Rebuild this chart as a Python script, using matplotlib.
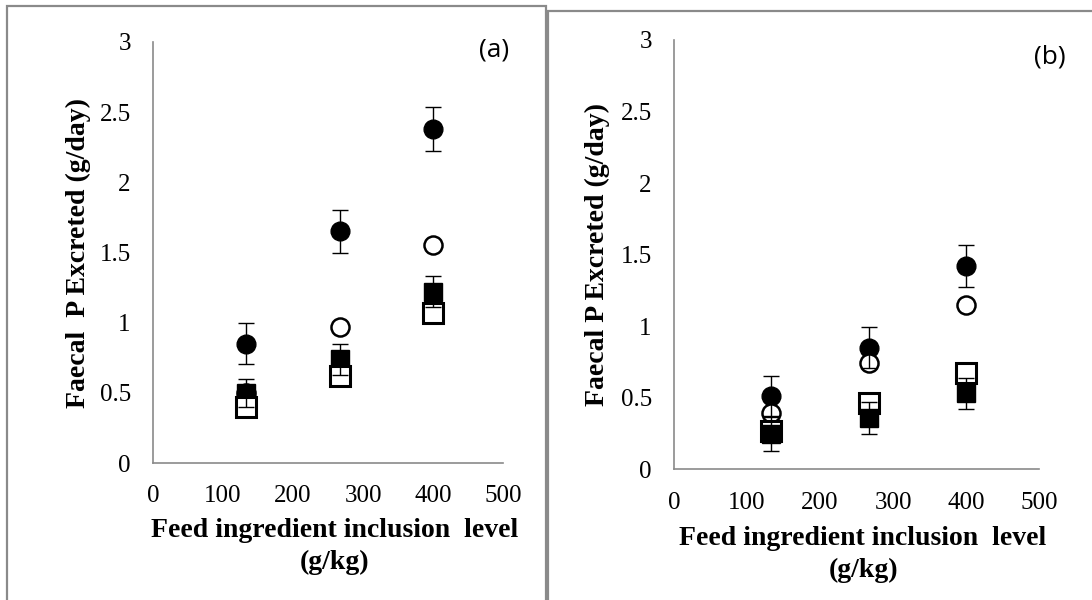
import matplotlib
matplotlib.use("Agg")
import matplotlib.pyplot as plt
from matplotlib.patches import Rectangle

# data
# ----------
inclusion = [133, 267, 400]

a_filled_circle = [0.85, 1.65, 2.38]
a_filled_circle_err = [0.145, 0.15, 0.155]
a_open_circle = [0.50, 0.97, 1.55]
a_filled_square = [0.50, 0.74, 1.22]
a_filled_square_err = [0.10, 0.11, 0.11]
a_open_square = [0.40, 0.62, 1.07]

b_filled_circle = [0.51, 0.85, 1.42]
b_filled_circle_err = [0.145, 0.145, 0.145]
b_open_circle = [0.39, 0.74, 1.15]
b_filled_square = [0.25, 0.36, 0.53]
b_filled_square_err = [0.12, 0.11, 0.11]
b_open_square = [0.27, 0.46, 0.67]

x_ticks = [0, 100, 200, 300, 400, 500]
y_ticks = [0, 0.5, 1, 1.5, 2, 2.5, 3]
y_tick_labels = ["0", "0.5", "1", "1.5", "2", "2.5", "3"]

# plot settings
# ----------
plt.rcParams["font.family"] = "Liberation Serif"
color_axis = "#8a8a8a"

fig = plt.figure(figsize=(10.92, 6.0), dpi=100)

# panel borders (pixel positions of the reference)
fig.add_artist(Rectangle((7 / 1092, -0.05), (545.5 - 7) / 1092, 1.05 - 6 / 600,
                         transform=fig.transFigure, fill=False, ec=color_axis, lw=1.6))
fig.add_artist(Rectangle((547.5 / 1092, -0.05), 0.6, 1.05 - 11 / 600,
                         transform=fig.transFigure, fill=False, ec=color_axis, lw=1.6))

ax_a = fig.add_axes([153 / 1092, 1 - 463 / 600, 350 / 1092, 421 / 600])
ax_b = fig.add_axes([674 / 1092, 1 - 469.3 / 600, 365 / 1092, 429.3 / 600])


def draw_panel(ax, fc, fc_err, oc, fs, fs_err, os_, open_sq_on_top, ylabel, tag, tag_xy, xlab_y):
    sq_open_z = 4 if open_sq_on_top else 3
    sq_fill_z = 3 if open_sq_on_top else 4
    ax.plot(inclusion, fc, "o", ms=13.5, mfc="black", mec="black", mew=1, zorder=2)
    ax.plot(inclusion, oc, "o", ms=13, mfc="white", mec="black", mew=1.8, zorder=2.5)
    ax.plot(inclusion, fs, "s", ms=13.5, mfc="black", mec="black", mew=1, zorder=sq_fill_z)
    ax.plot(inclusion, os_, "s", ms=14.5, mfc="white", mec="black", mew=2.2, zorder=sq_open_z)
    ax.errorbar(inclusion, fc, yerr=fc_err, fmt="none", ecolor="black",
                elinewidth=1, capsize=5.5, capthick=1, zorder=6)
    ax.errorbar(inclusion, fs, yerr=fs_err, fmt="none", ecolor="black",
                elinewidth=1, capsize=5.5, capthick=1, zorder=6)

    ax.set_xlim(0, 500)
    ax.set_ylim(0, 3)
    ax.set_xticks(x_ticks)
    ax.set_yticks(y_ticks)
    ax.set_yticklabels(y_tick_labels)
    ax.tick_params(length=0, labelsize=18, pad=16)
    for side in ["top", "right"]:
        ax.spines[side].set_visible(False)
    for side in ["left", "bottom"]:
        ax.spines[side].set_color(color_axis)
        ax.spines[side].set_linewidth(1.2)

    ax.set_xlabel("Feed ingredient inclusion  level\n(g/kg)", fontsize=20,
                  fontweight="bold", linespacing=1.35)
    ax.xaxis.set_label_coords(0.518, xlab_y, transform=ax.transAxes)
    ax.xaxis.label.set_va("top")
    ax.set_ylabel(ylabel, fontsize=20, fontweight="bold")
    ax.text(tag_xy[0], tag_xy[1], tag, transform=ax.transAxes, ha="center", va="center",
            fontsize=19, family="Open Sans")


draw_panel(ax_a, a_filled_circle, a_filled_circle_err, a_open_circle,
           a_filled_square, a_filled_square_err, a_open_square, True,
           "Faecal  P Excreted (g/day)", "(a)", (0.974, 0.981), -0.13)
draw_panel(ax_b, b_filled_circle, b_filled_circle_err, b_open_circle,
           b_filled_square, b_filled_square_err, b_open_square, False,
           "Faecal P Excreted (g/day)", "(b)", (1.03, 0.961), -0.133)
ax_a.yaxis.set_label_coords(-0.178, 0.5)
ax_b.yaxis.set_label_coords(-0.175, 0.5)

fig.savefig("out.png", dpi=100)
